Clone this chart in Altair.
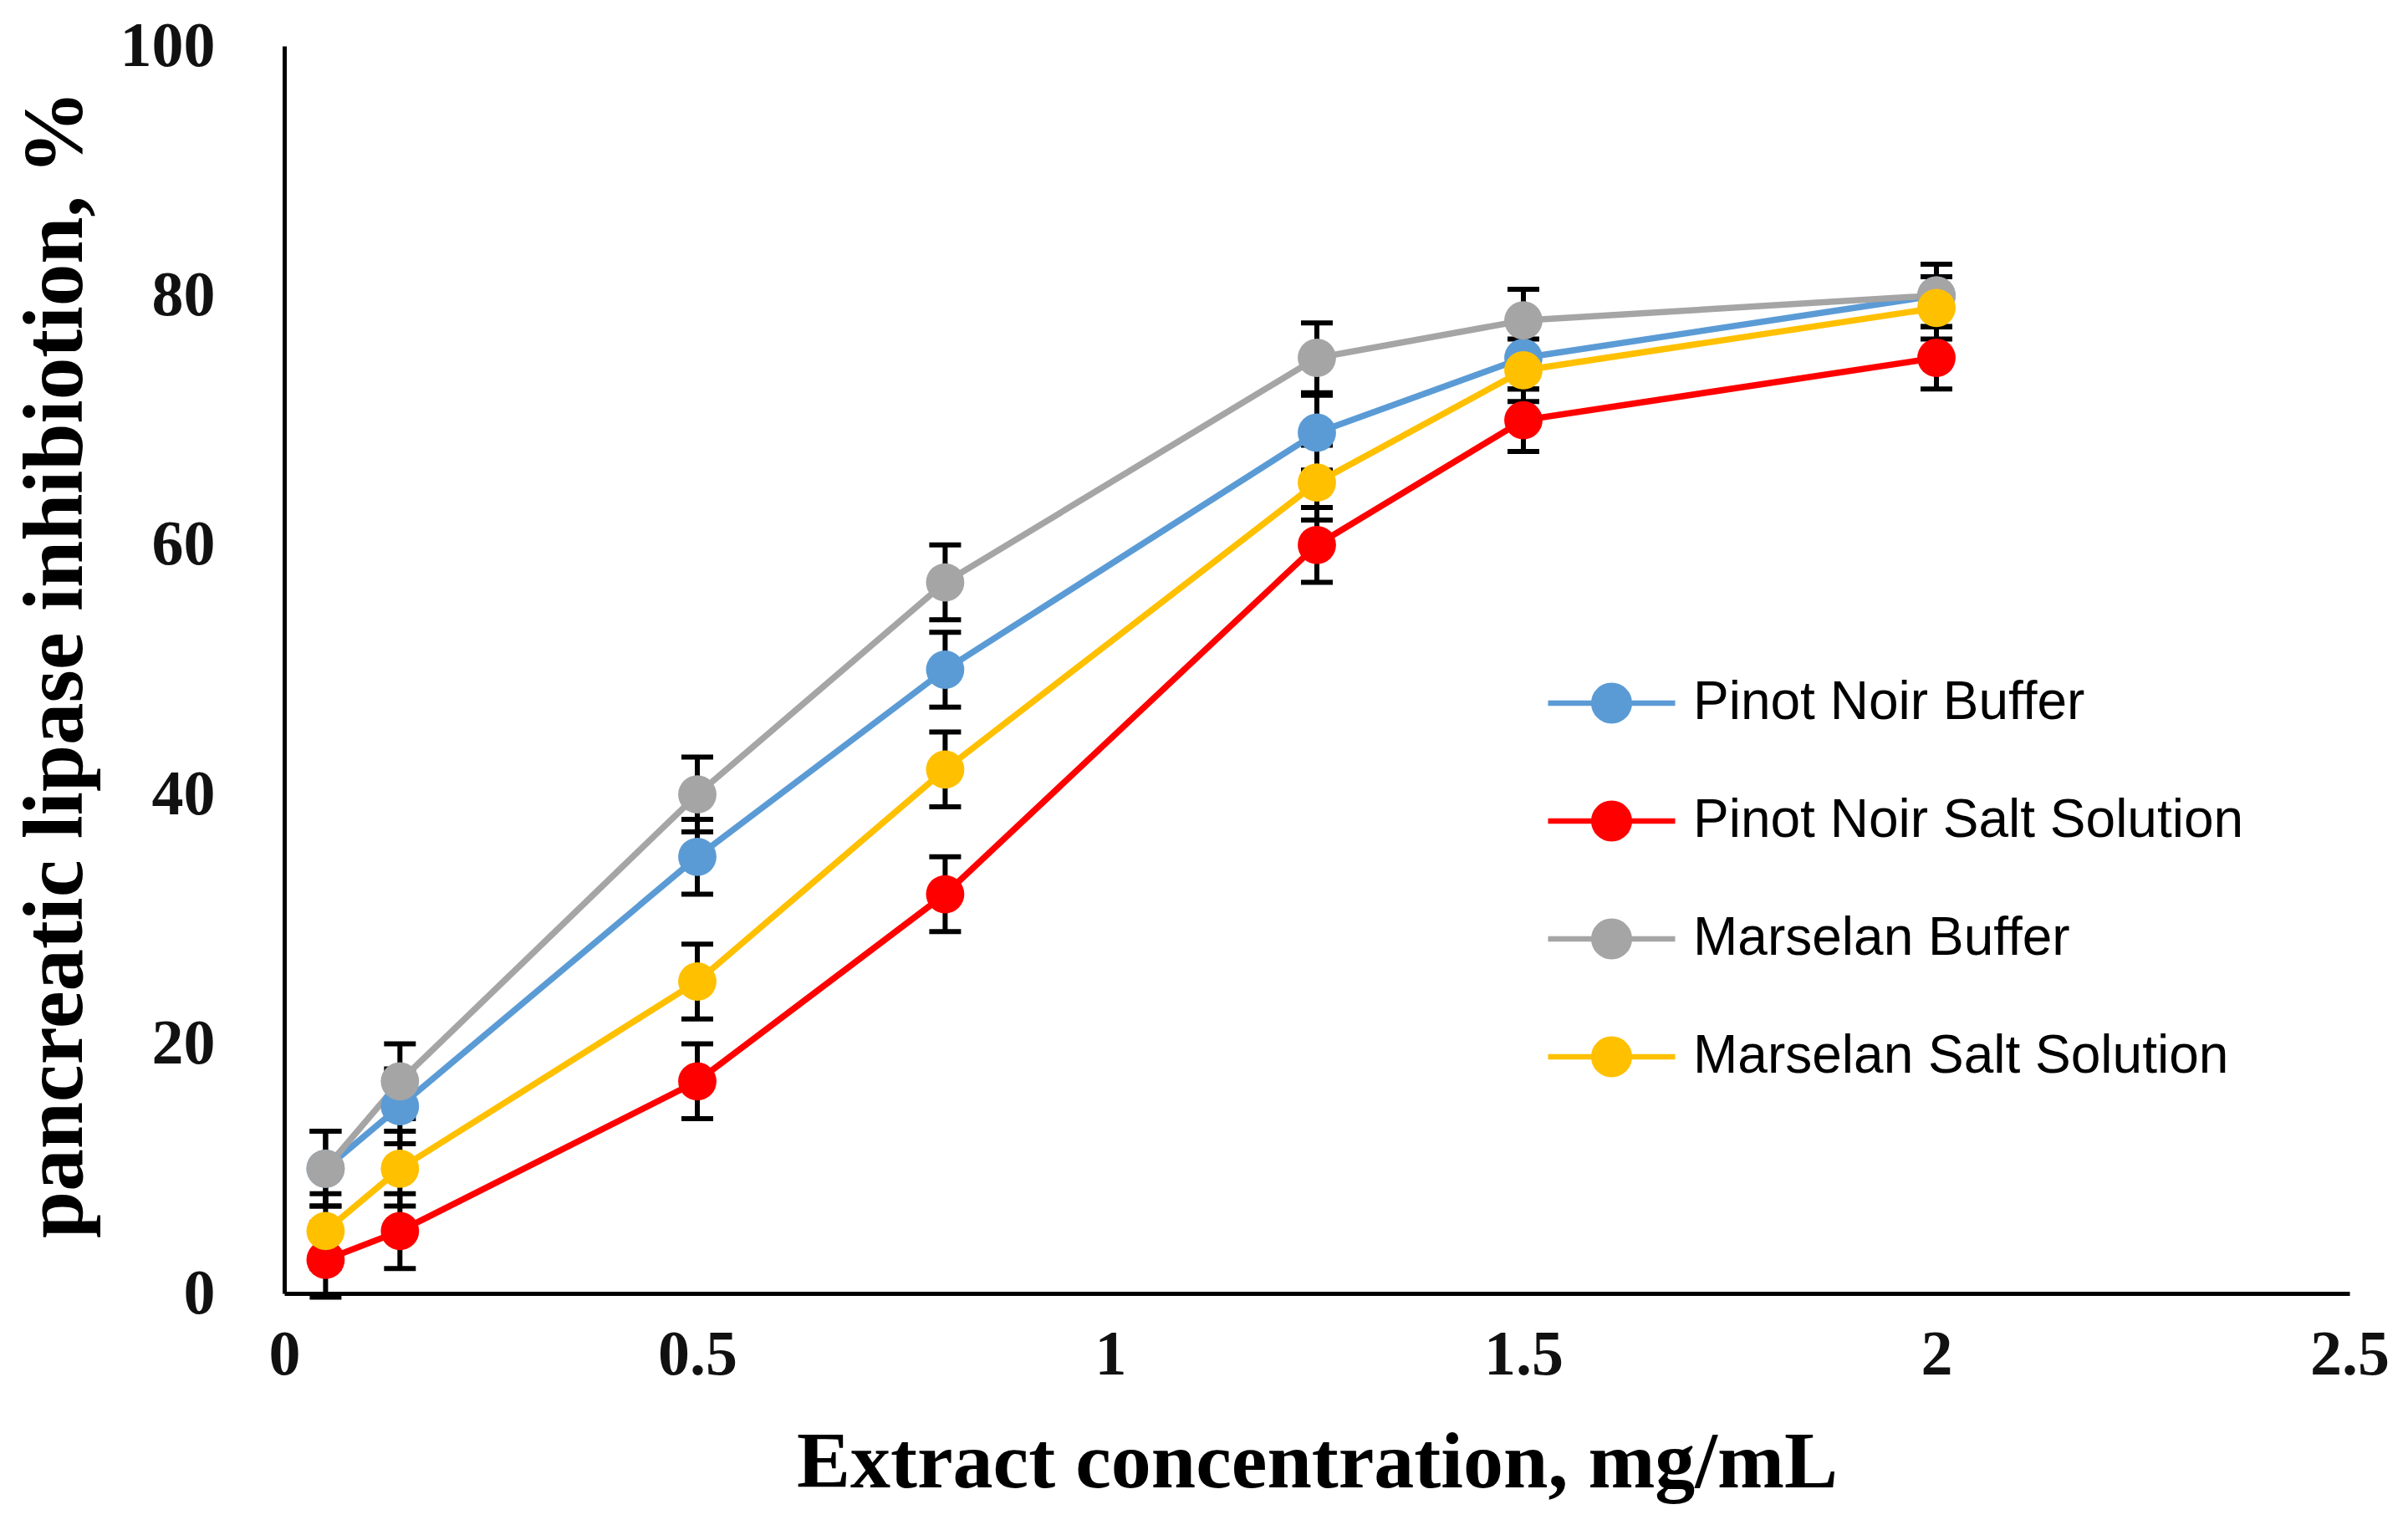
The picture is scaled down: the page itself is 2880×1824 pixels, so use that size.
import altair as alt
import pandas as pd

# ---- data ----
conc = [0.05, 0.14, 0.5, 0.8, 1.25, 1.5, 2.0]
series_names = ["Pinot Noir Buffer", "Pinot Noir Salt Solution",
                "Marselan Buffer", "Marselan Salt Solution"]
pinot_buffer = [10, 15, 35, 50, 69, 75, 80]
pinot_salt = [2.7, 5, 17, 32, 60, 70, 75]
marselan_buffer = [10, 17, 40, 57, 75, 78, 80]
marselan_salt = [5, 10, 25, 42, 65, 74, 79]
err_pinot_buffer = [3, 3, 3, 3, 3, 2.5, 2.5]
err_pinot_salt = [3, 3, 3, 3, 3, 2.5, 2.5]
err_marselan_buffer = [3, 3, 3, 3, 2.8, 2.5, 2.5]
err_marselan_salt = [3, 3, 3, 3, 3, 2.5, 2.5]
colors = ["#5B9BD5", "#FF0000", "#A5A5A5", "#FFC000"]

rows = []
for name, vals, errs in zip(series_names,
                            [pinot_buffer, pinot_salt, marselan_buffer, marselan_salt],
                            [err_pinot_buffer, err_pinot_salt, err_marselan_buffer, err_marselan_salt]):
    for x, v, e in zip(conc, vals, errs):
        rows.append({"conc": x, "val": v, "lo": v - e, "hi": v + e, "series": name})
df = pd.DataFrame(rows)

xs = alt.X("conc:Q", scale=alt.Scale(domain=[0, 2.5], nice=False),
           axis=alt.Axis(values=[0, 0.5, 1, 1.5, 2, 2.5], format=".1~f",
                         title="Extract concentration, mg/mL",
                         titleFontSize=96,
                         titleY=231, titleBaseline="alphabetic",
                         labelFlush=False,
                         labelPadding=36, tickSize=0, grid=False))
ys = alt.Y("val:Q", scale=alt.Scale(domain=[0, 100], nice=False),
           axis=alt.Axis(values=[0, 20, 40, 60, 80, 100],
                         title="pancreatic lipase inhibiotion, %",
                         titleFontSize=101,
                         titleX=-243, titleY=739, titleBaseline="alphabetic",
                         titleAngle=-90, labelFlush=False,
                         labelPadding=83, tickSize=0, grid=False))
color = alt.Color("series:N",
                  scale=alt.Scale(domain=series_names, range=colors),
                  legend=alt.Legend(
                      title=None, orient="none", legendX=1508, legendY=761,
                      symbolType="M-1,0H-0.28M0.28,0H1M-0.28,0A0.28,0.28 0 1,0 0.28,0A0.28,0.28 0 1,0 -0.28,0Z",
                      symbolSize=23104, symbolStrokeWidth=6.5,
                      clipHeight=50, rowPadding=77, padding=0,
                      labelOffset=18, labelFontSize=64,
                      labelFont="Liberation Sans Narrow, Liberation Sans",
                      labelColor="#000000", labelLimit=1000))

base = alt.Chart(df)

bars = base.mark_rule(color="black", strokeWidth=6).encode(
    x="conc:Q", y="lo:Q", y2="hi:Q")
cap_lo = base.mark_tick(color="black", thickness=6, size=38, orient="horizontal",
                        opacity=1).encode(x="conc:Q", y="lo:Q")
cap_hi = base.mark_tick(color="black", thickness=6, size=38, orient="horizontal",
                        opacity=1).encode(x="conc:Q", y="hi:Q")
lines = base.mark_line(strokeWidth=7.5).encode(x=xs, y=ys, color=color,
                                               order="conc:Q")
points = base.mark_circle(size=2100, opacity=1).encode(x="conc:Q", y="val:Q",
                                                       color=color)

chart = alt.layer(bars, cap_lo, cap_hi, lines, points).properties(
    width=2470, height=1492,
    autosize=alt.AutoSizeParams(type="none"),
    padding={"left": 332, "top": 47, "right": 62, "bottom": 269},
).configure_view(stroke=None).configure_axis(
    domainColor="black", domainWidth=5,
    labelFont="Liberation Serif", labelFontWeight="bold", labelFontSize=76,
    labelColor="#111111",
    titleFont="Liberation Serif", titleFontWeight="bold",
    titleColor="#000000",
)

chart.save("out.html", embed_options={"renderer": "svg", "actions": False})
